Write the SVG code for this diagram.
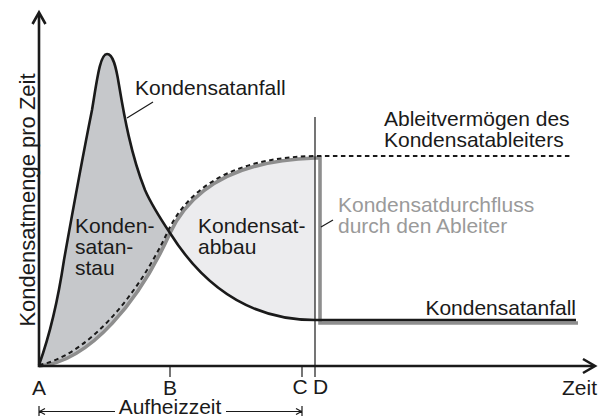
<svg xmlns="http://www.w3.org/2000/svg" width="606" height="416" viewBox="0 0 606 416">
<style>
text{font-family:"Liberation Sans",Arial,sans-serif;font-size:21px;fill:#1a1a1a}
.gt{fill:#9a9a9a}
.ax{fill:none;stroke:#1a1a1a;stroke-width:2.6}
.thin{fill:none;stroke:#1a1a1a;stroke-width:1.2}
.blk{fill:none;stroke:#1a1a1a;stroke-width:2.6;stroke-linejoin:round}
.gry{fill:none;stroke:#8e8e8e;stroke-width:3.6;stroke-linejoin:miter}
.dsh{fill:none;stroke:#1a1a1a;stroke-width:2;stroke-dasharray:4.5 3.5}
</style>
<rect width="606" height="416" fill="#fff"/>
<g id="fills">
<path d="M39,365 C48,340 58,300 64,260 C72,215 84,150 92,110 C97,80 100,54 107,54 C113,54 116,66 119,85 C124,115 131,155 145,190 C152,206 160,218 170,233 C140,300 90,362 39,366 Z" fill="#c6c8cb"/>
<path d="M170,233 C192,268 235,320 315,320 L315,158 C250,160 195,180 170,233 Z" fill="#ececee"/>
</g>
<g id="connectors">
<path class="gry" d="M39,366 C90,362 140,300 170,233 C195,180 250,160 315,158 L320,158 L320,323 L578,323"/>
<path class="dsh" d="M39,365 C86,356 137,298 168,231 C194,177 250,157 315,156 L570,156"/>
<path class="blk" d="M39,365 C48,340 58,300 64,260 C72,215 84,150 92,110 C97,80 100,54 107,54 C113,54 116,66 119,85 C124,115 131,155 145,190 C152,206 160,218 170,233 C192,268 235,320 315,320 L576,320"/>
<line class="thin" x1="127" y1="118" x2="153" y2="102"/>
<line class="thin" x1="321" y1="227" x2="333" y2="220"/>
</g>
<g id="axes">
<path class="ax" d="M39,14 L39,366 L594,366"/>
<path class="ax" d="M32.5,24 L39,12.5 L45.5,24"/>
<path class="ax" d="M583,359 L595,366 L583,373"/>
<line class="thin" x1="170" y1="366" x2="170" y2="377"/>
<line class="thin" x1="302" y1="366" x2="302" y2="377"/>
<line class="thin" x1="315" y1="117" x2="315" y2="377"/>
<path class="thin" d="M39,406 L39,416 M39,411.5 L115,411.5 M226,411.5 L302,411.5 M302,406 L302,416 M45,408.5 L39.5,411.5 L45,414.5 M296,408.5 L301.5,411.5 L296,414.5"/>
</g>
<g id="labels">
<text x="135" y="95">Kondensatanfall</text>
<text transform="translate(35,200) rotate(-90)" text-anchor="middle" style="font-size:22px">Kondensatmenge pro Zeit</text>
<text x="75" y="233">Konden-</text>
<text x="75" y="254">satan-</text>
<text x="75" y="275">stau</text>
<text x="198" y="233">Kondensat-</text>
<text x="198" y="254">abbau</text>
<text x="384" y="126">Ableitvermögen des</text>
<text x="384" y="147">Kondensatableiters</text>
<text class="gt" x="338" y="212">Kondensatdurchfluss</text>
<text class="gt" x="338" y="233">durch den Ableiter</text>
<text x="576" y="315" text-anchor="end">Kondensatanfall</text>
<text x="39" y="395" text-anchor="middle">A</text>
<text x="170" y="395" text-anchor="middle">B</text>
<text x="300" y="394" text-anchor="middle">C</text>
<text x="313" y="394">D</text>
<text x="597" y="395" text-anchor="end">Zeit</text>
<text x="170" y="414" text-anchor="middle">Aufheizzeit</text>
</g>
</svg>
